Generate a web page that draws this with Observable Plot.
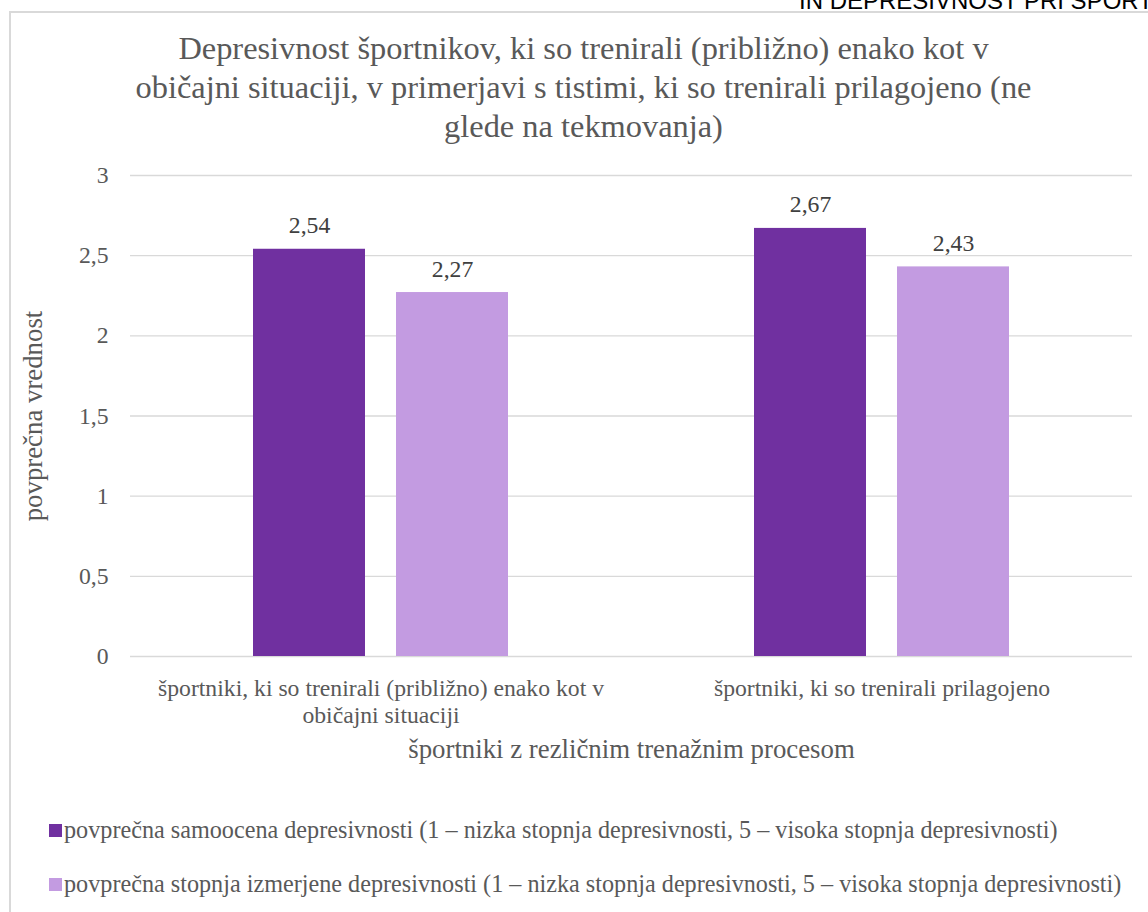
<!DOCTYPE html>
<html>
<head>
<meta charset="utf-8">
<script src="https://cdn.jsdelivr.net/npm/d3@7"></script>
<script src="https://cdn.jsdelivr.net/npm/@observablehq/plot@0.6"></script>
<style>
  body { margin:0; background:#fff; width:1148px; height:912px; overflow:hidden; position:relative; }
  #hdr { position:absolute; left:799px; top:-11px; font-family:"Liberation Sans", Arial, sans-serif; font-size:24px; line-height:24px; white-space:nowrap; color:#000; }
  #frame { position:absolute; left:9px; top:11px; width:1200px; height:1000px; border-left:2px solid #D9D9D9; border-top:2px solid #D9D9D9; }
  #title { position:absolute; left:0; width:1167px; top:29px; text-align:center; font-family:"Liberation Serif", serif; font-size:32.4px; line-height:39px; color:#595959; white-space:nowrap; }
  #chart { position:absolute; left:0; top:150px; }
  .leg { position:absolute; left:49px; font-family:"Liberation Serif", serif; font-size:24.2px; color:#595959; white-space:nowrap; display:flex; align-items:center; height:24px; }
  .sw { width:13px; height:13px; margin-right:2px; }
</style>
</head>
<body>
<div id="hdr">IN DEPRESIVNOST PRI ŠPORTNIKIH</div>
<div id="frame"></div>
<div id="title"></div>
<div id="chart"></div>
<div id="legend"></div>
<script>
const titleLines = [
  "Depresivnost športnikov, ki so trenirali (približno) enako kot v",
  "običajni situaciji, v primerjavi s tistimi, ki so trenirali prilagojeno (ne",
  "glede na tekmovanja)"
];
const categories = [
  "športniki, ki so trenirali (približno) enako kot v običajni situaciji",
  "športniki, ki so trenirali prilagojeno"
];
const categoryLabels = [
  "športniki, ki so trenirali (približno) enako kot v\nobičajni situaciji",
  "športniki, ki so trenirali prilagojeno"
];
const series = [
  "povprečna samoocena depresivnosti (1 – nizka stopnja depresivnosti, 5 – visoka stopnja depresivnosti)",
  "povprečna stopnja izmerjene depresivnosti (1 – nizka stopnja depresivnosti, 5 – visoka stopnja depresivnosti)"
];
const samoocena = [2.54, 2.67];
const izmerjena = [2.27, 2.43];
const colors = ["#7030A0", "#C39BE1"];
const yTicks = [0, 0.5, 1, 1.5, 2, 2.5, 3];
const yLabel = "povprečna vrednost";
const xLabel = "športniki z rezličnim trenažnim procesom";

document.getElementById("title").innerHTML = titleLines.join("<br>");

const data = categories.flatMap((c, i) => [
  {cat: c, ser: series[0], v: samoocena[i]},
  {cat: c, ser: series[1], v: izmerjena[i]}
]);
const comma = v => String(v).replace(".", ",");
const fmt2 = v => d3.format(".2f")(v).replace(".", ",");
const serif = "Liberation Serif, serif";

const chart = Plot.plot({
  width: 1148, height: 621,
  marginLeft: 130, marginRight: 16, marginTop: 25, marginBottom: 115,
  style: {fontFamily: serif, fontSize: "23.7px", color: "#595959", background: "transparent"},
  fx: {domain: categories, padding: 0},
  x: {domain: series, paddingInner: 0.217, paddingOuter: 0.86, axis: null},
  y: {domain: [0, 3]},
  color: {domain: series, range: colors},
  marks: [
    Plot.gridY(yTicks, {stroke: "#D9D9D9", strokeOpacity: 1, strokeWidth: 1.3}),
    Plot.axisY(yTicks, {tickSize: 0, tickPadding: 22, tickFormat: comma, fontSize: 23.7, fontFamily: serif, fill: "#595959", label: null}),
    Plot.axisY({label: yLabel, labelAnchor: "center", labelOffset: 108, labelArrow: "none", ticks: [], tickSize: 0, fontSize: 26.8, fontFamily: serif, fill: "#595959"}),
    Plot.axisFx({anchor: "bottom", tickSize: 0, tickPadding: 20, tickFormat: d => categoryLabels[categories.indexOf(d)], lineHeight: 1.14, fontSize: 23.7, fontFamily: serif, fill: "#595959", label: null}),
    Plot.axisFx({anchor: "bottom", ticks: [], tickSize: 0, label: xLabel, labelAnchor: "center", labelOffset: 101, labelArrow: "none", fontSize: 26.8, fontFamily: serif, fill: "#595959"}),
    Plot.barY(data, {fx: "cat", x: "ser", y: "v", fill: "ser"}),
    Plot.text(data, {fx: "cat", x: "ser", y: "v", text: d => fmt2(d.v), dy: -16, lineAnchor: "bottom", fontSize: 23.7, fontFamily: serif, fill: "#404040"})
  ]
});
document.getElementById("chart").appendChild(chart);

const legend = document.getElementById("legend");
const tops = [818, 872];
series.forEach((s, i) => {
  const row = document.createElement("div");
  row.className = "leg";
  row.style.top = tops[i] + "px";
  const sw = document.createElement("div");
  sw.className = "sw";
  sw.style.background = colors[i];
  row.appendChild(sw);
  const t = document.createElement("span");
  t.textContent = s;
  row.appendChild(t);
  legend.appendChild(row);
});
</script>
</body>
</html>
